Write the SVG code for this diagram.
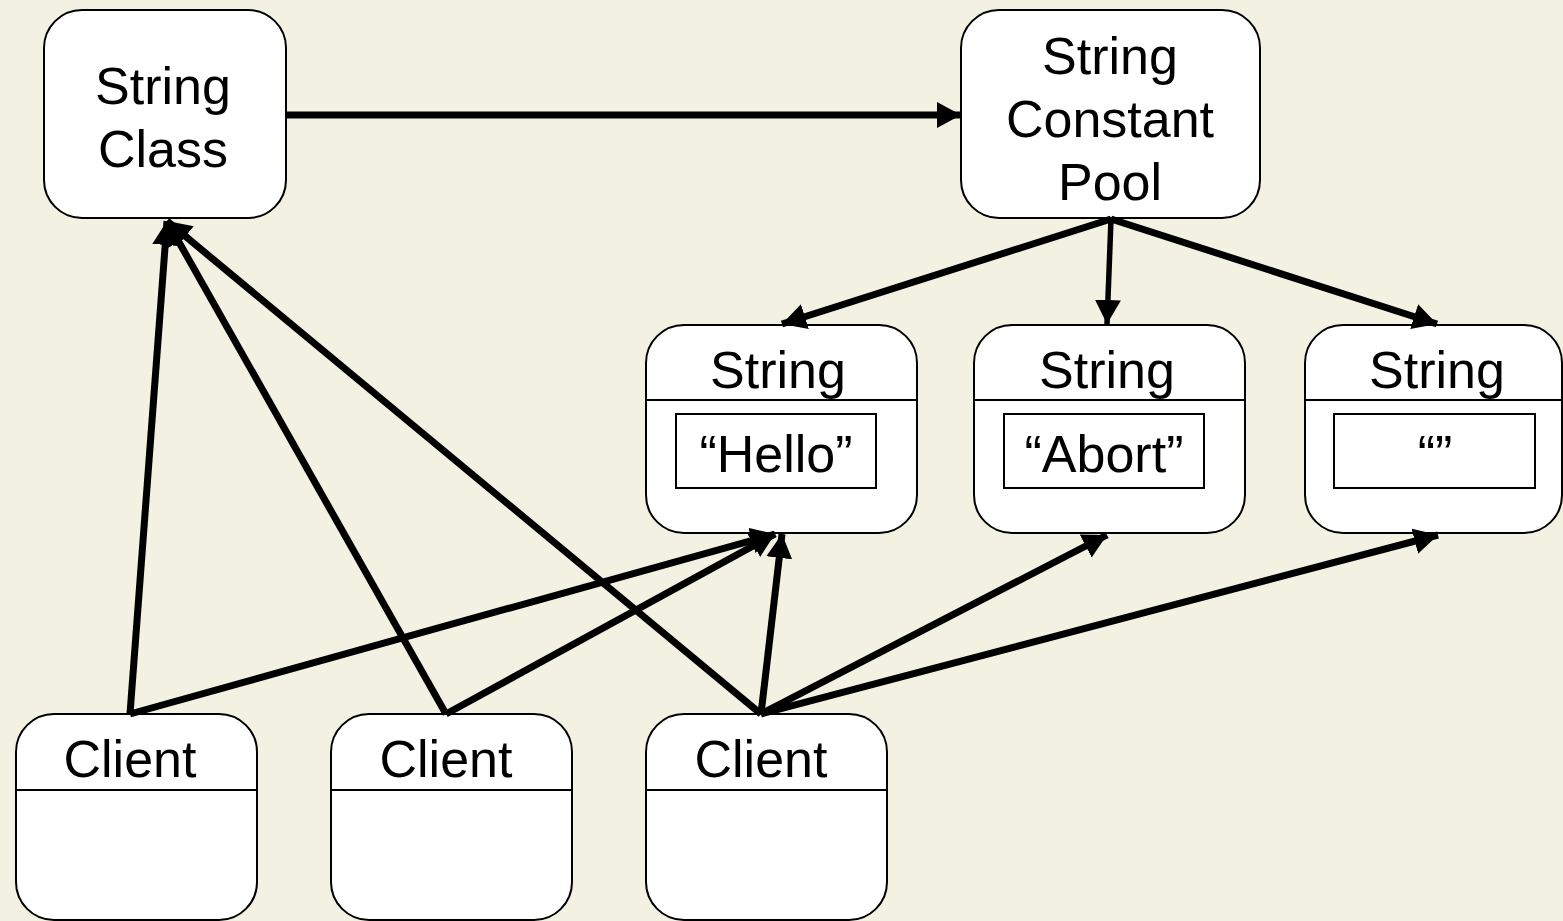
<svg xmlns="http://www.w3.org/2000/svg" width="1563" height="921" viewBox="0 0 1563 921">
  <defs>
    <marker id="arrow" markerUnits="userSpaceOnUse" markerWidth="26" markerHeight="28" refX="24" refY="13" orient="auto">
      <path d="M0,0 L24,13 L0,26 z" fill="#000"/>
    </marker>
    <style>
      .box { fill: #fff; stroke: #000; stroke-width: 2; }
      .sep { stroke: #000; stroke-width: 2; }
      .lbl { font-family: "Liberation Sans", Arial, sans-serif; font-size: 52px; fill: #000; text-anchor: middle; }
      .edge { fill: none; stroke: #000; stroke-width: 7; marker-end: url(#arrow); }
    </style>
  </defs>
  <rect width="1563" height="921" fill="#f3f1e2"/>

  <g id="string-class">
    <rect class="box" x="44" y="10" width="242" height="208" rx="38"/>
    <text class="lbl" x="163" y="104">String</text>
    <text class="lbl" x="163" y="167">Class</text>
  </g>

  <g id="constant-pool">
    <rect class="box" x="961" y="10" width="299" height="208" rx="38"/>
    <text class="lbl" x="1110" y="74">String</text>
    <text class="lbl" x="1110" y="137">Constant</text>
    <text class="lbl" x="1110" y="200">Pool</text>
  </g>

  <g id="string-hello">
    <rect class="box" x="646" y="325" width="271" height="208" rx="38"/>
    <line class="sep" x1="646" y1="400" x2="917" y2="400"/>
    <rect class="box" x="676" y="414" width="200" height="74"/>
    <text class="lbl" x="778" y="388">String</text>
    <text class="lbl" x="776" y="472">“Hello”</text>
  </g>

  <g id="string-abort">
    <rect class="box" x="974" y="325" width="271" height="208" rx="38"/>
    <line class="sep" x1="974" y1="400" x2="1245" y2="400"/>
    <rect class="box" x="1004" y="414" width="200" height="74"/>
    <text class="lbl" x="1107" y="388">String</text>
    <text class="lbl" x="1104" y="472">“Abort”</text>
  </g>

  <g id="string-empty">
    <rect class="box" x="1305" y="325" width="257" height="208" rx="38"/>
    <line class="sep" x1="1305" y1="400" x2="1562" y2="400"/>
    <rect class="box" x="1334" y="414" width="201" height="74"/>
    <text class="lbl" x="1437" y="388">String</text>
    <text class="lbl" x="1435" y="472">“”</text>
  </g>

  <g id="client-1">
    <rect class="box" x="16" y="714" width="241" height="206" rx="38"/>
    <line class="sep" x1="16" y1="790" x2="257" y2="790"/>
    <text class="lbl" x="130" y="777">Client</text>
  </g>

  <g id="client-2">
    <rect class="box" x="331" y="714" width="241" height="206" rx="38"/>
    <line class="sep" x1="331" y1="790" x2="572" y2="790"/>
    <text class="lbl" x="446" y="777">Client</text>
  </g>

  <g id="client-3">
    <rect class="box" x="646" y="714" width="241" height="206" rx="38"/>
    <line class="sep" x1="646" y1="790" x2="887" y2="790"/>
    <text class="lbl" x="761" y="777">Client</text>
  </g>

  <g id="connectors">
    <line class="edge" x1="286" y1="115" x2="961" y2="115"/>
    <line class="edge" x1="1111" y1="219" x2="782" y2="324"/>
    <line class="edge" x1="1111" y1="219" x2="1107" y2="324" style="stroke-width:5.5"/>
    <line class="edge" x1="1111" y1="219" x2="1437" y2="324"/>
    <line class="edge" x1="130" y1="714" x2="167" y2="221"/>
    <line class="edge" x1="446" y1="714" x2="167" y2="221"/>
    <line class="edge" x1="761" y1="714" x2="167" y2="221"/>
    <line class="edge" x1="130" y1="714" x2="775" y2="534"/>
    <line class="edge" x1="446" y1="714" x2="775" y2="534"/>
    <line class="edge" x1="761" y1="714" x2="782" y2="534"/>
    <line class="edge" x1="761" y1="714" x2="1107" y2="535"/>
    <line class="edge" x1="761" y1="714" x2="1438" y2="535"/>
  </g>
</svg>
